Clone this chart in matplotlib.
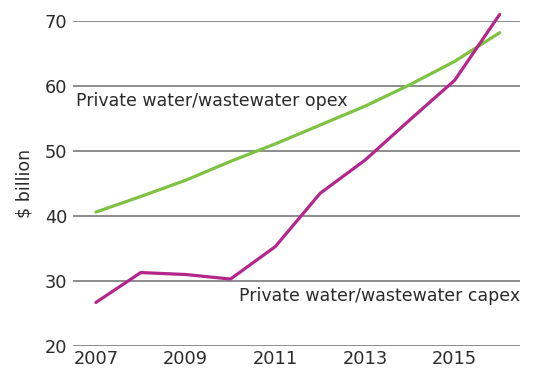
import matplotlib
matplotlib.use("Agg")
import matplotlib.pyplot as plt

years = [2007, 2008, 2009, 2010, 2011, 2012, 2013, 2014, 2015, 2016]
opex = [40.6, 43.0, 45.5, 48.4, 51.1, 54.0, 56.9, 60.2, 63.8, 68.2]
capex = [26.7, 31.3, 31.0, 30.3, 35.3, 43.5, 48.6, 54.8, 60.9, 71.0]
xticks = [2007, 2009, 2011, 2013, 2015]
yticks = [20, 30, 40, 50, 60, 70]

plt.rcParams['font.family'] = ['DejaVu Sans']
txt = '#2b2b2b'

fig = plt.figure(figsize=(5.37, 3.69), dpi=100)
ax = fig.add_axes([0.136, 0.0623, 0.832, 0.8808])

for y in yticks:
    ax.axhline(y, color='#8c8c8c', lw=1.4, zorder=1)

ax.plot(years, opex, color='#7fc241', lw=2.3, zorder=3, clip_on=False,
        solid_capstyle='round')
ax.plot(years, capex, color='#b3268c', lw=2.3, zorder=3, clip_on=False,
        solid_capstyle='round')

ax.set_xlim(2006.49, 2016.45)
ax.set_ylim(20, 70)
ax.set_xticks(xticks)
ax.set_yticks(yticks)
ax.tick_params(length=0, labelsize=12.8, colors=txt)
ax.tick_params(axis='x', pad=3)
ax.tick_params(axis='y', pad=4)
for s in ax.spines.values():
    s.set_visible(False)

ax.set_ylabel('$ billion', fontsize=12.5, color=txt, labelpad=8)

ax.text(2006.55, 57.7, 'Private water/wastewater opex', fontsize=12.5,
        color=txt, va='center', ha='left')
ax.text(2010.2, 27.7, 'Private water/wastewater capex', fontsize=12.5,
        color=txt, va='center', ha='left')

fig.savefig('out.png', dpi=100)
